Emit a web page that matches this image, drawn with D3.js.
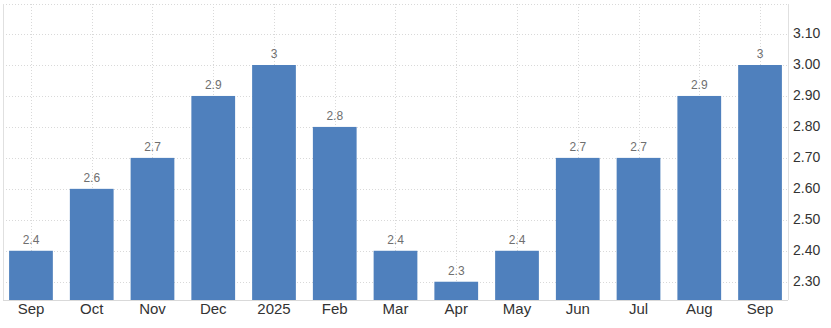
<!DOCTYPE html>
<html>
<head>
<meta charset="utf-8">
<script src="https://cdn.jsdelivr.net/npm/d3@7"></script>
<style>
  body { margin: 0; background: #fff; }
  svg { display: block; font-family: Arial, "Liberation Sans", sans-serif; }
</style>
</head>
<body>
<svg id="chart" width="831" height="328"></svg>
<script>
var categories = ["Sep", "Oct", "Nov", "Dec", "2025", "Feb", "Mar", "Apr", "May", "Jun", "Jul", "Aug", "Sep"];
var values = [2.4, 2.6, 2.7, 2.9, 3.0, 2.8, 2.4, 2.3, 2.4, 2.7, 2.7, 2.9, 3.0];
var yTicks = [2.3, 2.4, 2.5, 2.6, 2.7, 2.8, 2.9, 3.0, 3.1];

(function () {
    "use strict";
    var svg = d3.select("#chart");
    var left = 3, right = 788, top = 4, bottom = 300;

    // keys are indices since "Sep" appears twice
    var x = d3.scaleBand()
        .domain(d3.range(categories.length))
        .range([0.6, 790.4])
        .paddingInner(0.28)
        .paddingOuter(0.14);

    var y = d3.scaleLinear()
        .domain([2.241, 3.197])
        .range([bottom, top]);

    // horizontal grid
    svg.append("g").selectAll("line")
        .data(yTicks)
        .enter().append("line")
        .attr("x1", left).attr("x2", right)
        .attr("y1", function (d) { return Math.round(y(d)) + 0.5; })
        .attr("y2", function (d) { return Math.round(y(d)) + 0.5; })
        .attr("stroke", "#d9d9d9")
        .attr("stroke-dasharray", "1,2");

    // top line
    svg.append("line")
        .attr("x1", left).attr("x2", right)
        .attr("y1", top + 0.5).attr("y2", top + 0.5)
        .attr("stroke", "#d9d9d9")
        .attr("stroke-dasharray", "1,2");

    // vertical grid at category centres
    svg.append("g").selectAll("line")
        .data(d3.range(categories.length))
        .enter().append("line")
        .attr("x1", function (i) { return Math.round(x(i) + x.bandwidth() / 2) + 0.5; })
        .attr("x2", function (i) { return Math.round(x(i) + x.bandwidth() / 2) + 0.5; })
        .attr("y1", top).attr("y2", bottom)
        .attr("stroke", "#d9d9d9")
        .attr("stroke-dasharray", "1,2");

    // frame lines
    svg.append("line")
        .attr("x1", left + 0.5).attr("x2", left + 0.5)
        .attr("y1", top).attr("y2", bottom)
        .attr("stroke", "#e0e0e0");
    svg.append("line")
        .attr("x1", right + 0.5).attr("x2", right + 0.5)
        .attr("y1", top).attr("y2", bottom)
        .attr("stroke", "#e0e0e0");

    // bars
    svg.append("g").selectAll("rect")
        .data(values)
        .enter().append("rect")
        .attr("x", function (d, i) { return x(i); })
        .attr("width", x.bandwidth())
        .attr("y", function (d) { return y(d); })
        .attr("height", function (d) { return bottom - y(d); })
        .attr("fill", "#4f80bd");

    // value labels
    svg.append("g").selectAll("text")
        .data(values)
        .enter().append("text")
        .attr("x", function (d, i) { return x(i) + x.bandwidth() / 2; })
        .attr("y", function (d) { return y(d) - 7; })
        .attr("text-anchor", "middle")
        .attr("font-size", "12px")
        .attr("fill", "#6f6f6f")
        .text(function (d) { return String(d); });

    // bottom axis line
    svg.append("line")
        .attr("x1", left).attr("x2", right)
        .attr("y1", bottom + 0.5).attr("y2", bottom + 0.5)
        .attr("stroke", "#d9d9d9");

    // category labels
    svg.append("g").selectAll("text")
        .data(categories)
        .enter().append("text")
        .attr("x", function (d, i) { return x(i) + x.bandwidth() / 2; })
        .attr("y", 314)
        .attr("text-anchor", "middle")
        .attr("font-size", "15px")
        .attr("fill", "#333")
        .text(function (d) { return d; });

    // right axis labels
    var fmt = d3.format(".2f");
    svg.append("g").selectAll("text")
        .data(yTicks)
        .enter().append("text")
        .attr("x", 793)
        .attr("y", function (d) { return y(d) + 4; })
        .attr("font-size", "14px")
        .attr("fill", "#333")
        .text(function (d) { return fmt(d); });
})();
</script>
</body>
</html>
